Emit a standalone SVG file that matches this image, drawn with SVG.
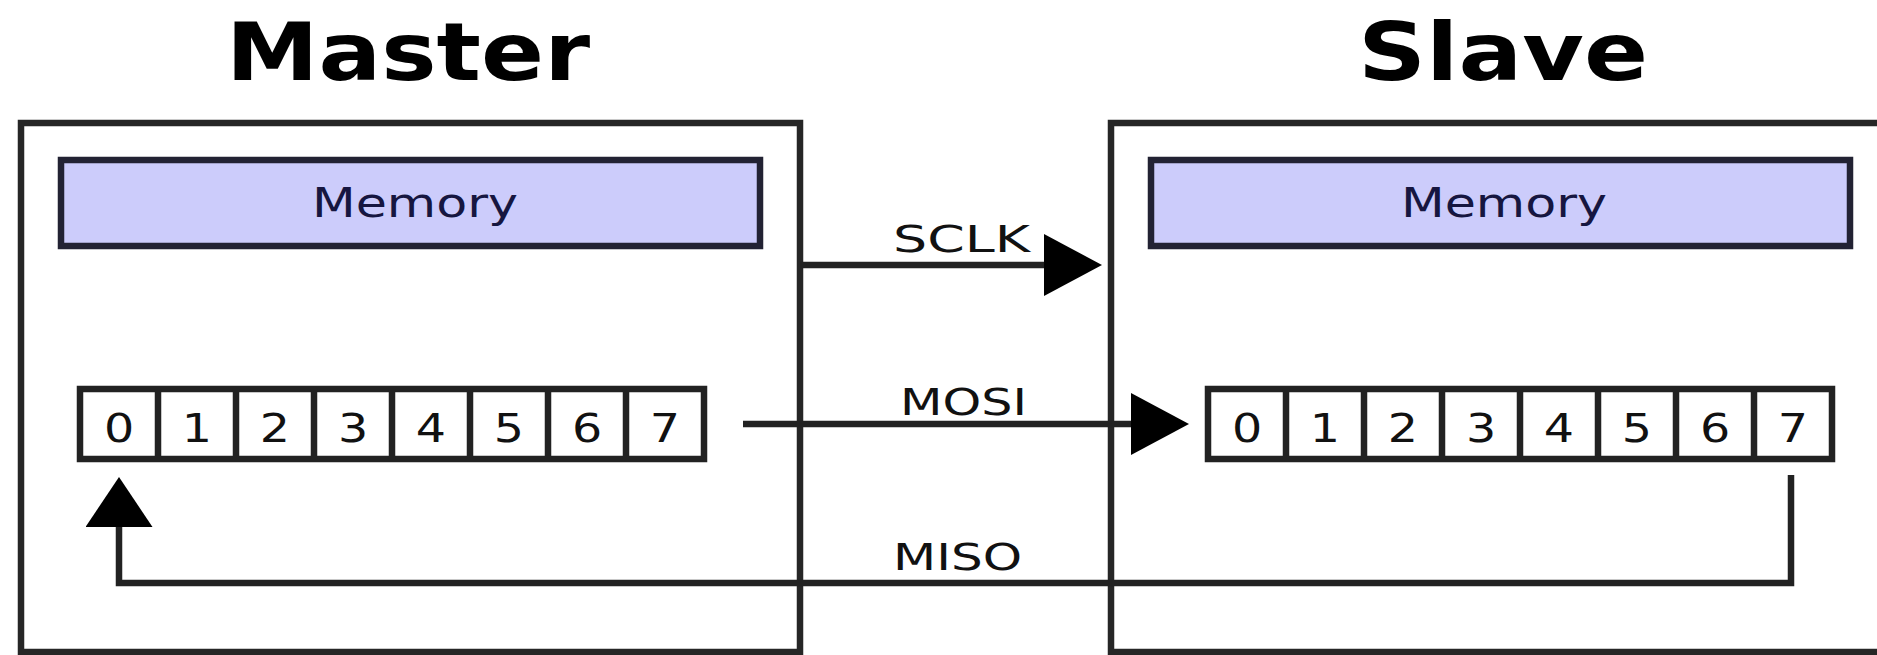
<svg xmlns="http://www.w3.org/2000/svg" width="1877" height="655" viewBox="0 0 1877 655">
  <style>
    .title { font-family: "DejaVu Sans", "Liberation Sans", sans-serif; font-weight: bold; font-size: 80px; fill: #000; }
    .outer { fill: #fff; stroke: #262626; stroke-width: 6.5; }
    .mem { fill: #ccccfb; stroke: #222233; stroke-width: 6.5; }
    .memtext { font-family: "DejaVu Sans", "Liberation Sans", sans-serif; font-size: 40px; fill: #161640; }
    .reg { fill: #fff; stroke: #222; stroke-width: 6.5; }
    .div { stroke: #222; stroke-width: 6.5; }
    .digit { font-family: "DejaVu Sans", "Liberation Sans", sans-serif; font-size: 39px; fill: #111; text-anchor: middle; }
    .wire { fill: none; stroke: #222; stroke-width: 6.5; }
    .label { font-family: "DejaVu Sans", "Liberation Sans", sans-serif; font-size: 37px; fill: #111; }
  </style>
  <defs>
    <marker id="arrowH" viewBox="0 0 58 62" refX="18" refY="31" markerWidth="58" markerHeight="62" markerUnits="userSpaceOnUse" orient="auto">
      <path d="M0,0 L58,31 L0,62 Z" fill="#000"/>
    </marker>
    <marker id="arrowV" viewBox="0 0 50 67" refX="10" refY="33.5" markerWidth="50" markerHeight="67" markerUnits="userSpaceOnUse" orient="auto">
      <path d="M0,0 L50,33.5 L0,67 Z" fill="#000"/>
    </marker>
  </defs>
  <rect width="1877" height="655" fill="#fff"/>

  <g id="master">
    <text class="title" x="226" y="80" textLength="364" lengthAdjust="spacingAndGlyphs">Master</text>
    <rect class="outer" x="21" y="123" width="779" height="529"/>
    <g id="master-memory">
      <rect class="mem" x="61" y="160" width="699" height="86"/>
      <text class="memtext" x="312" y="217" textLength="206" lengthAdjust="spacingAndGlyphs">Memory</text>
    </g>
    <g id="master-register">
      <rect class="reg" x="80" y="389" width="624" height="70"/>
      <path class="div" d="M158,389V459 M236,389V459 M314,389V459 M392,389V459 M470,389V459 M548,389V459 M626,389V459"/>
      <g transform="translate(80,0) scale(1.22,1)">
        <text class="digit" x="32" y="442">0</text>
        <text class="digit" x="95.9" y="442">1</text>
        <text class="digit" x="159.8" y="442">2</text>
        <text class="digit" x="223.8" y="442">3</text>
        <text class="digit" x="287.7" y="442">4</text>
        <text class="digit" x="351.6" y="442">5</text>
        <text class="digit" x="415.6" y="442">6</text>
        <text class="digit" x="479.5" y="442">7</text>
      </g>
    </g>
  </g>

  <g id="slave">
    <text class="title" x="1358" y="80" textLength="290" lengthAdjust="spacingAndGlyphs">Slave</text>
    <rect class="outer" x="1111" y="123" width="800" height="529"/>
    <g id="slave-memory">
      <rect class="mem" x="1151" y="160" width="699" height="86"/>
      <text class="memtext" x="1401" y="217" textLength="206" lengthAdjust="spacingAndGlyphs">Memory</text>
    </g>
    <g id="slave-register">
      <rect class="reg" x="1208" y="389" width="624" height="70"/>
      <path class="div" d="M1286,389V459 M1364,389V459 M1442,389V459 M1520,389V459 M1598,389V459 M1676,389V459 M1754,389V459"/>
      <g transform="translate(1208,0) scale(1.22,1)">
        <text class="digit" x="32" y="442">0</text>
        <text class="digit" x="95.9" y="442">1</text>
        <text class="digit" x="159.8" y="442">2</text>
        <text class="digit" x="223.8" y="442">3</text>
        <text class="digit" x="287.7" y="442">4</text>
        <text class="digit" x="351.6" y="442">5</text>
        <text class="digit" x="415.6" y="442">6</text>
        <text class="digit" x="479.5" y="442">7</text>
      </g>
    </g>
  </g>

  <g id="connectors">
    <path class="wire" d="M800,265 H1062" marker-end="url(#arrowH)"/>
    <text class="label" x="893" y="252" textLength="137" lengthAdjust="spacingAndGlyphs">SCLK</text>
    <path class="wire" d="M743,424 H1149" marker-end="url(#arrowH)"/>
    <text class="label" x="900" y="415" textLength="127" lengthAdjust="spacingAndGlyphs">MOSI</text>
    <path class="wire" d="M1791,475 V583 H119 V517" marker-end="url(#arrowV)"/>
    <text class="label" x="893" y="570" textLength="129" lengthAdjust="spacingAndGlyphs">MISO</text>
  </g>
</svg>
